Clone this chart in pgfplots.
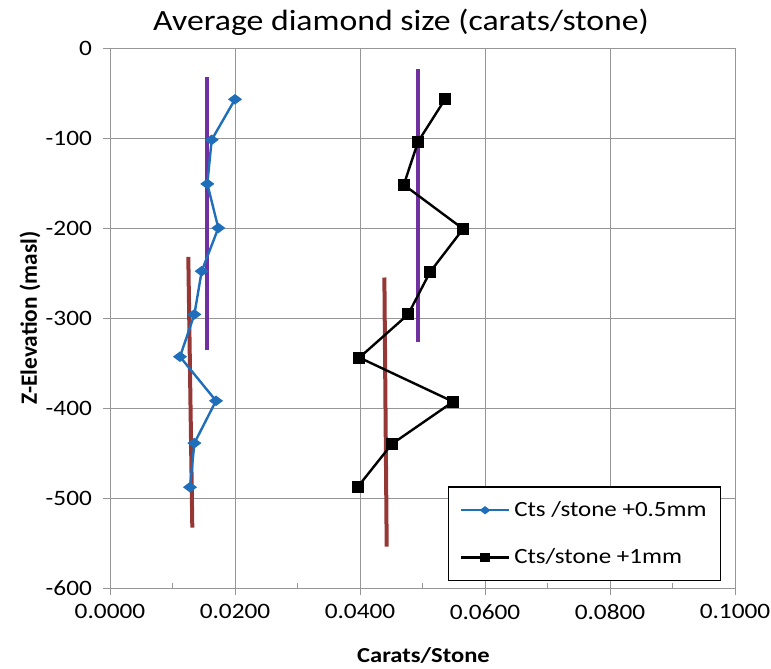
\documentclass[border=0pt]{standalone}
\usepackage{pgfplots}
\pgfplotsset{compat=1.18}
\usepackage{fontspec}
\setmainfont[FakeStretch=1.15]{Carlito}
\newfontfamily\ylabfont{Carlito}
\definecolor{cblue}{RGB}{31,110,186}
\definecolor{cpurple}{RGB}{112,48,160}
\definecolor{cbrown}{RGB}{149,55,53}
\definecolor{cgrid}{RGB}{150,150,150}
\begin{document}
\begin{tikzpicture}
\useasboundingbox (0,0) rectangle (578.25pt,501pt);
\begin{axis}[
  at={(82.5pt,60pt)}, anchor=south west,
  scale only axis, width=468.75pt, height=405pt,
  xmin=0, xmax=0.1, ymin=-600, ymax=0,
  xtick={0,0.02,0.04,0.06,0.08,0.1},
  ytick={-600,-500,-400,-300,-200,-100,0},
  minor x tick num=1,
  xtick pos=bottom, ytick pos=left,
  tick align=outside,
  major tick length=5pt, minor tick length=4pt,
  minor x tick style={yshift=4pt},
  tick style={cgrid, line width=0.75pt},
  grid=major,
  grid style={cgrid, line width=0.75pt},
  axis line style={cgrid, line width=0.75pt},
  scaled x ticks=false,
  /pgf/number format/assume math mode=true,
  xticklabel style={/pgf/number format/fixed, /pgf/number format/fixed zerofill, /pgf/number format/precision=4, font=\fontsize{16.5}{19}\selectfont, yshift=-4pt},
  yticklabel style={font=\fontsize{16.5}{19}\selectfont, /pgf/number format/fixed, xshift=-5pt},
  legend style={at={(rel axis cs:0.5408,0.188)}, anchor=north west, draw=black, line width=0.8pt, fill=white,
    font=\fontsize{16.3}{19}\selectfont, inner xsep=8.5pt, inner ysep=9pt, row sep=18.5pt, column sep=1pt,
    nodes={inner sep=2pt}},
  legend cell align=left,
  legend image code/.code={\draw[mark repeat=2,mark phase=2,mark size=2.6pt] plot coordinates {(0pt,0pt)(18pt,0pt)(36pt,0pt)};},
]
% vertical average lines
\addplot[cpurple, line width=3pt, forget plot] coordinates {(0.01557,-32) (0.01557,-335)};
\addplot[cpurple, line width=3pt, forget plot] coordinates {(0.0493,-23) (0.0493,-327)};
\addplot[cbrown, line width=3pt, forget plot] coordinates {(0.01253,-232) (0.01317,-533)};
\addplot[cbrown, line width=3pt, forget plot] coordinates {(0.0439,-255) (0.04427,-554)};
% series
\addplot[cblue, line width=1.8pt, mark=diamond*, mark size=3.8pt, mark options={rotate=90, solid}] coordinates {
(0.0200,-57) (0.01627,-102) (0.01557,-151) (0.01733,-200) (0.01467,-248)
(0.0135,-296) (0.0112,-343) (0.01696,-392) (0.0135,-439) (0.0128,-488)};
\addlegendentry{Cts /stone +0.5mm}
\addplot[black, line width=1.8pt, mark=square*, mark size=3.6pt, mark options={solid}] coordinates {
(0.0536,-57) (0.0493,-104) (0.0470,-152) (0.0565,-201) (0.0512,-249)
(0.0477,-296) (0.0399,-344) (0.0549,-393) (0.0451,-440) (0.0396,-488)};
\addlegendentry{Cts/stone +1mm}
\end{axis}
\node at (300.75pt,484.5pt) {\fontsize{22}{26}\selectfont Average diamond size (carats/stone)};
\node at (317.6pt,9.5pt) {\fontsize{16}{19}\selectfont\bfseries Carats/Stone};
\node[rotate=90] at (22.5pt,262.5pt) {\ylabfont\fontsize{17.5}{20}\selectfont\bfseries Z-Elevation (masl)};
\end{tikzpicture}
\end{document}
